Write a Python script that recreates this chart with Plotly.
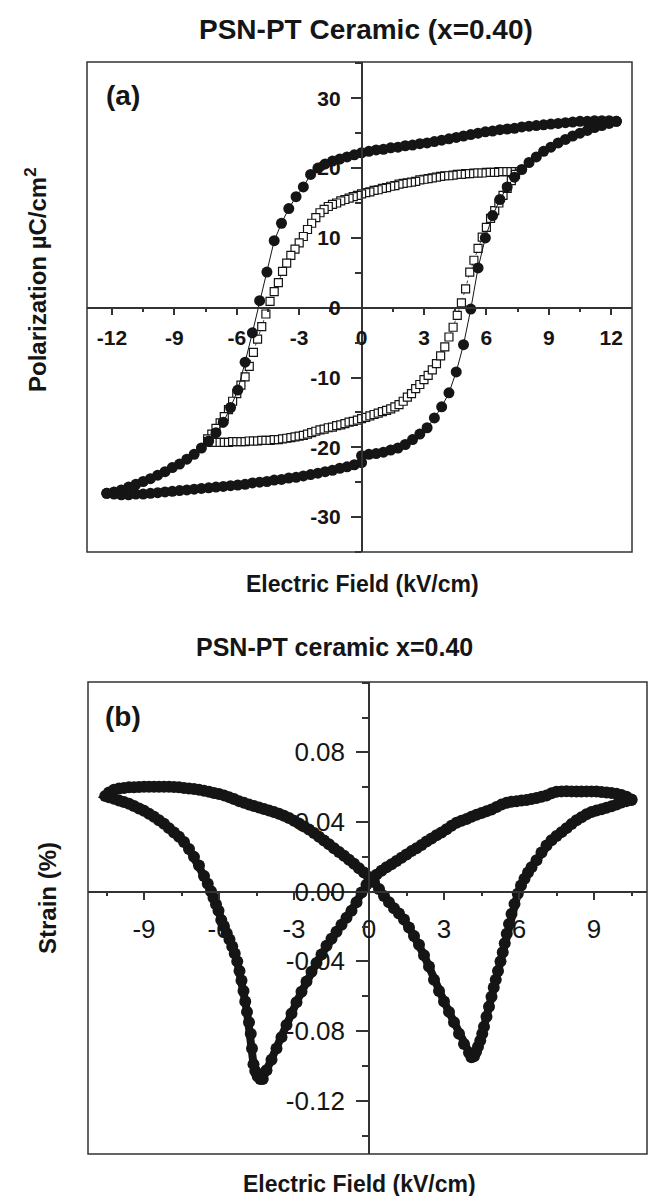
import plotly.graph_objects as go

# ---------------- Panel (a): P-E hysteresis loops ----------------
# outer loop (filled circles), descending field branch
E_outer_down = [12.25, 11.9, 11.55, 11.2, 10.85, 10.5, 10.15, 9.8, 9.45, 9.1, 8.75, 8.4, 8.05, 7.7, 7.35, 7.0,
                6.65, 6.3, 5.95, 5.6, 5.25, 4.9, 4.55, 4.2, 3.85, 3.5, 3.15, 2.8, 2.45, 2.1, 1.75, 1.4, 1.05, 0.7,
                0.35, 0.0, -0.35, -0.7, -1.05, -1.4, -1.75, -2.1, -2.45, -2.8, -3.15, -3.5, -3.85, -4.2, -4.55,
                -4.9, -5.25, -5.6, -5.95, -6.3, -6.65, -7.0, -7.35, -7.7, -8.05, -8.4, -8.75, -9.1, -9.45, -9.8,
                -10.15, -10.5, -10.85, -11.2, -11.55, -11.9, -12.25]
P_outer_down = [26.7, 26.8, 26.8, 26.8, 26.7, 26.7, 26.6, 26.5, 26.4, 26.3, 26.2, 26.1, 26.0, 25.9, 25.7, 25.6,
                25.5, 25.3, 25.2, 25.0, 24.8, 24.6, 24.4, 24.2, 24.0, 23.8, 23.6, 23.5, 23.3, 23.2, 23.0, 22.9,
                22.7, 22.6, 22.4, 22.2, 21.9, 21.6, 21.3, 21.0, 20.6, 20.0, 19.1, 17.3, 15.9, 14.2, 12.1, 9.6,
                5.1, 1.0, -3.6, -7.8, -11.8, -14.3, -16.4, -17.9, -19.1, -20.1, -21.0, -21.7, -22.4, -22.9,
                -23.5, -24.0, -24.5, -24.9, -25.3, -25.7, -26.1, -26.4, -26.6]
# outer loop, ascending field branch
E_outer_up = [-12.25, -11.9, -11.55, -11.2, -10.85, -10.5, -10.15, -9.8, -9.45, -9.1, -8.75, -8.4, -8.05, -7.7,
              -7.35, -7.0, -6.65, -6.3, -5.95, -5.6, -5.25, -4.9, -4.55, -4.2, -3.85, -3.5, -3.15, -2.8, -2.45,
              -2.1, -1.75, -1.4, -1.05, -0.7, -0.35, 0.0, 0.0, 0.35, 0.7, 1.05, 1.4, 1.75, 2.1, 2.45, 2.8, 3.15,
              3.5, 3.85, 4.2, 4.55, 4.9, 5.25, 5.6, 5.95, 6.3, 6.65, 7.0, 7.35, 7.7, 8.05, 8.4, 8.75, 9.1, 9.45,
              9.8, 10.15, 10.5, 10.85, 11.2, 11.55, 11.9, 12.25]
P_outer_up = [-26.6, -26.7, -26.8, -26.8, -26.7, -26.7, -26.6, -26.5, -26.4, -26.3, -26.2, -26.1, -26.0, -25.9,
              -25.8, -25.7, -25.6, -25.5, -25.4, -25.3, -25.1, -25.0, -24.9, -24.7, -24.6, -24.4, -24.3, -24.1,
              -23.9, -23.7, -23.5, -23.3, -23.0, -22.8, -22.5, -22.2, -21.2, -21.0, -20.9, -20.7, -20.4, -20.1,
              -19.6, -18.9, -18.1, -17.2, -15.8, -14.2, -12.2, -9.2, -5.3, -0.2, 5.7, 10.0, 13.2, 15.5, 17.3,
              18.7, 19.8, 20.8, 21.6, 22.4, 23.0, 23.6, 24.1, 24.6, 25.0, 25.4, 25.8, 26.1, 26.4, 26.7]

# inner loop (open squares)
E_inner_down = [7.4, 7.2, 7.0, 6.8, 6.6, 6.4, 6.2, 6.0, 5.8, 5.6, 5.4, 5.2, 5.0, 4.8, 4.6, 4.4, 4.2, 4.0, 3.8,
                3.6, 3.4, 3.2, 3.0, 2.8, 2.6, 2.4, 2.2, 2.0, 1.8, 1.6, 1.4, 1.2, 1.0, 0.8, 0.6, 0.4, 0.2, 0.0,
                -0.2, -0.4, -0.6, -0.8, -1.0, -1.2, -1.4, -1.6, -1.8, -2.0, -2.2, -2.4, -2.6, -2.8, -3.0, -3.2,
                -3.4, -3.6, -3.8, -4.0, -4.2, -4.4, -4.6, -4.8, -5.0, -5.2, -5.4, -5.6, -5.8, -6.0, -6.2, -6.4,
                -6.6, -6.8, -7.0, -7.2, -7.4]
P_inner_down = [19.5, 19.5, 19.5, 19.5, 19.5, 19.4, 19.4, 19.4, 19.3, 19.3, 19.3, 19.2, 19.2, 19.1, 19.1, 19.0,
                18.9, 18.9, 18.8, 18.7, 18.6, 18.5, 18.4, 18.3, 18.1, 18.0, 17.9, 17.8, 17.7, 17.5, 17.4, 17.2,
                17.1, 16.9, 16.8, 16.6, 16.5, 16.3, 16.1, 15.9, 15.7, 15.5, 15.3, 15.0, 14.8, 14.5, 14.1, 13.6,
                12.9, 12.1, 11.2, 10.2, 9.3, 8.4, 7.5, 6.4, 5.2, 3.6, 2.3, 0.9, -0.9, -2.7, -4.5, -6.4, -8.4,
                -9.9, -11.1, -12.3, -13.4, -14.6, -15.6, -16.5, -17.3, -18.1, -18.8]
E_inner_up = [-7.4, -7.2, -7.0, -6.8, -6.6, -6.4, -6.2, -6.0, -5.8, -5.6, -5.4, -5.2, -5.0, -4.8, -4.6, -4.4,
              -4.2, -4.0, -3.8, -3.6, -3.4, -3.2, -3.0, -2.8, -2.6, -2.4, -2.2, -2.0, -1.8, -1.6, -1.4, -1.2,
              -1.0, -0.8, -0.6, -0.4, -0.2, 0.0, 0.2, 0.4, 0.6, 0.8, 1.0, 1.2, 1.4, 1.6, 1.8, 2.0, 2.2, 2.4,
              2.6, 2.8, 3.0, 3.2, 3.4, 3.6, 3.8, 4.0, 4.2, 4.4, 4.6, 4.8, 5.0, 5.2, 5.4, 5.6, 5.8, 6.0, 6.2,
              6.4, 6.6, 6.8, 7.0, 7.2, 7.4]
P_inner_up = [-19.2, -19.3, -19.3, -19.3, -19.3, -19.3, -19.2, -19.2, -19.2, -19.2, -19.1, -19.1, -19.1, -19.0,
              -19.0, -19.0, -18.9, -18.9, -18.8, -18.7, -18.6, -18.5, -18.4, -18.3, -18.1, -17.9, -17.7, -17.5,
              -17.4, -17.2, -17.1, -16.9, -16.8, -16.6, -16.4, -16.3, -16.1, -15.9, -15.7, -15.5, -15.3, -15.1,
              -14.9, -14.7, -14.5, -14.2, -13.9, -13.4, -12.8, -12.3, -11.6, -11.0, -10.3, -9.7, -8.9, -8.0,
              -6.9, -5.6, -4.2, -2.8, -1.1, 0.7, 2.7, 5.1, 6.8, 8.5, 10.1, 11.5, 12.8, 13.9, 15.0, 16.1, 17.1,
              18.2, 19.1]

# ---------------- Panel (b): strain butterfly loop ----------------
E_bA = [10.5, 10.3, 10.1, 9.9, 9.7, 9.5, 9.3, 9.1, 8.9, 8.7, 8.5, 8.3, 8.1, 7.9, 7.7, 7.5, 7.3, 7.1, 6.9, 6.7,
        6.5, 6.3, 6.1, 5.9, 5.7, 5.5, 5.3, 5.1, 4.9, 4.7, 4.5, 4.3, 4.1, 3.9, 3.7, 3.5, 3.3, 3.1, 2.9, 2.7,
        2.5, 2.3, 2.1, 1.9, 1.7, 1.5, 1.3, 1.1, 0.9, 0.7, 0.5, 0.3, 0.1, -0.1, -0.3, -0.5, -0.7, -0.9, -1.1,
        -1.3, -1.5, -1.7, -1.9, -2.1, -2.3, -2.5, -2.7, -2.9, -3.1, -3.3, -3.5, -3.7, -3.9, -4.1, -4.25]
S_bA = [0.0530, 0.0545, 0.0555, 0.0562, 0.0566, 0.0570, 0.0573, 0.0575, 0.0576, 0.0576, 0.0575, 0.0575, 0.0576,
        0.0577, 0.0576, 0.0574, 0.0565, 0.0552, 0.0545, 0.0538, 0.0532, 0.0527, 0.0523, 0.0519, 0.0516, 0.0510,
        0.0500, 0.0486, 0.0472, 0.0462, 0.0452, 0.0442, 0.0430, 0.0418, 0.0408, 0.0396, 0.0378, 0.0358, 0.0340,
        0.0324, 0.0306, 0.0288, 0.0268, 0.0250, 0.0233, 0.0214, 0.0195, 0.0176, 0.0158, 0.0140, 0.0120, 0.0098,
        0.0072, 0.0040, -0.0005, -0.0060, -0.0110, -0.0150, -0.0190, -0.0230, -0.0270, -0.0310, -0.0360,
        -0.0410, -0.0460, -0.0515, -0.0575, -0.0635, -0.0700, -0.0765, -0.0835, -0.0900, -0.0965, -0.1025,
        -0.1075]
E_bB = [-4.35, -4.45, -4.55, -4.62, -4.68, -4.73, -4.8, -4.88, -4.95, -5.02, -5.1, -5.18, -5.27, -5.37, -5.47,
        -5.58, -5.69, -5.8, -5.91, -6.02, -6.12, -6.22, -6.32, -6.45, -6.6, -6.8, -7.0, -7.2, -7.4, -7.6, -7.8,
        -8.0, -8.2, -8.4, -8.6, -8.8, -9.0, -9.2, -9.4, -9.6, -9.8, -10.0, -10.2, -10.4, -10.55]
S_bB = [-0.1075, -0.1060, -0.1030, -0.0990, -0.0900, -0.0815, -0.0750, -0.0690, -0.0630, -0.0570, -0.0510,
        -0.0455, -0.0400, -0.0355, -0.0315, -0.0275, -0.0238, -0.0200, -0.0162, -0.0110, -0.0072, -0.0035,
        0.0002, 0.0045, 0.0090, 0.0150, 0.0200, 0.0245, 0.0285, 0.0315, 0.0340, 0.0365, 0.0390, 0.0410,
        0.0430, 0.0448, 0.0465, 0.0478, 0.0492, 0.0505, 0.0515, 0.0524, 0.0533, 0.0542, 0.0550]
E_bC = [-10.4, -10.2, -10.0, -9.8, -9.6, -9.4, -9.2, -9.0, -8.8, -8.6, -8.4, -8.2, -8.0, -7.8, -7.6, -7.4,
        -7.2, -7.0, -6.8, -6.6, -6.4, -6.2, -6.0, -5.8, -5.6, -5.4, -5.2, -5.0, -4.8, -4.6, -4.4, -4.2, -4.0,
        -3.8, -3.6, -3.4, -3.2, -3.0, -2.8, -2.6, -2.4, -2.2, -2.0, -1.8, -1.6, -1.4, -1.2, -1.0, -0.8, -0.6,
        -0.4, -0.2, 0.0, 0.2, 0.4, 0.6, 0.8, 1.0, 1.2, 1.4, 1.6, 1.8, 2.0, 2.2, 2.4, 2.6, 2.8, 3.0, 3.2, 3.4,
        3.6, 3.8, 4.0, 4.1]
S_bC = [0.0570, 0.0585, 0.0592, 0.0596, 0.0599, 0.0600, 0.0601, 0.0602, 0.0602, 0.0603, 0.0603, 0.0603, 0.0602,
        0.0601, 0.0599, 0.0596, 0.0593, 0.0590, 0.0586, 0.0580, 0.0574, 0.0567, 0.0561, 0.0553, 0.0543, 0.0532,
        0.0520, 0.0510, 0.0500, 0.0492, 0.0483, 0.0475, 0.0466, 0.0457, 0.0447, 0.0436, 0.0423, 0.0408, 0.0392,
        0.0375, 0.0357, 0.0337, 0.0316, 0.0294, 0.0272, 0.0250, 0.0228, 0.0206, 0.0184, 0.0160, 0.0135, 0.0110,
        0.0085, 0.0055, 0.0015, -0.0025, -0.0060, -0.0095, -0.0125, -0.0160, -0.0205, -0.0255, -0.0305,
        -0.0365, -0.0430, -0.0505, -0.0570, -0.0630, -0.0690, -0.0750, -0.0815, -0.0875, -0.0925, -0.0950]
E_bD = [4.2, 4.28, 4.36, 4.45, 4.53, 4.6, 4.7, 4.8, 4.9, 4.99, 5.07, 5.16, 5.26, 5.35, 5.43, 5.51, 5.6, 5.7,
        5.82, 5.95, 6.08, 6.22, 6.36, 6.5, 6.7, 6.9, 7.1, 7.3, 7.5, 7.7, 7.9, 8.1, 8.3, 8.5, 8.7, 8.9, 9.1,
        9.3, 9.5, 9.7, 9.9, 10.1, 10.3, 10.5]
S_bD = [-0.0945, -0.0920, -0.0890, -0.0855, -0.0815, -0.0775, -0.0718, -0.0660, -0.0603, -0.0550, -0.0505,
        -0.0455, -0.0400, -0.0348, -0.0296, -0.0242, -0.0185, -0.0128, -0.0070, -0.0012, 0.0035, 0.0075,
        0.0110, 0.0140, 0.0180, 0.0225, 0.0265, 0.0295, 0.0320, 0.0342, 0.0365, 0.0388, 0.0410, 0.0428,
        0.0445, 0.0457, 0.0466, 0.0474, 0.0482, 0.0490, 0.0500, 0.0512, 0.0520, 0.0526]

# tick labels
xticks_a = [-12, -9, -6, -3, 0, 3, 6, 9, 12]
yticks_a = [-30, -20, -10, 0, 10, 20, 30]
xticks_b = [-9, -6, -3, 0, 3, 6, 9]
yticks_b = [-0.12, -0.08, -0.04, 0.0, 0.04, 0.08]
ytext_b = ["-0.12", "-0.08", "-0.04", "0.00", "0.04", "0.08"]

# ---------------- layout geometry (pixels) ----------------
W, H = 649, 1196
FONT = "Liberation Sans, Arial, Helvetica, sans-serif"
INK = "#151515"
AX = "#333333"

def px_x(x):
    return x / W

def px_y(y):
    return 1 - y / H

# panel (a) frame
a_l, a_r, a_t, a_b = 87, 632, 62, 552
ax_range = [-13.2, 13.0]
ay_range = [-35.0, 35.2]
# panel (b) frame
b_l, b_r, b_t, b_b = 88, 647, 682, 1154
bx_range = [-11.24, 11.12]
by_range = [-0.1506, 0.1204]


def zero_pos(rng, lo, hi):
    return lo + (0 - rng[0]) / (rng[1] - rng[0]) * (hi - lo)

ya0_px = a_b - (a_b - a_t) * (0 - ay_range[0]) / (ay_range[1] - ay_range[0])
xa0_px = zero_pos(ax_range, a_l, a_r)
yb0_px = b_b - (b_b - b_t) * (0 - by_range[0]) / (by_range[1] - by_range[0])
xb0_px = zero_pos(bx_range, b_l, b_r)

fig = go.Figure()

# inner loop squares (drawn first, under the circles)
fig.add_trace(go.Scatter(
    x=E_inner_down + E_inner_up, y=P_inner_down + P_inner_up,
    mode="lines+markers", xaxis="x", yaxis="y",
    line=dict(color=INK, width=0.8, dash="dot"),
    marker=dict(symbol="square", size=8, color="white", line=dict(color=INK, width=1.2)),
    showlegend=False, hoverinfo="skip"))
# outer loop circles
fig.add_trace(go.Scatter(
    x=E_outer_down + E_outer_up, y=P_outer_down + P_outer_up,
    mode="lines+markers", xaxis="x", yaxis="y",
    line=dict(color=INK, width=1),
    marker=dict(symbol="circle", size=11, color=INK),
    showlegend=False, hoverinfo="skip"))
# butterfly loop
fig.add_trace(go.Scatter(
    x=E_bA + E_bB + E_bC + E_bD, y=S_bA + S_bB + S_bC + S_bD,
    mode="lines+markers", xaxis="x2", yaxis="y2",
    line=dict(color=INK, width=8),
    marker=dict(symbol="circle", size=12, color=INK),
    showlegend=False, hoverinfo="skip"))

common_axis = dict(showgrid=False, zeroline=False, showline=True, linecolor=AX, linewidth=1.5,
                   ticks="outside", tickcolor=AX, tickwidth=1.5, fixedrange=True)

fig.update_layout(
    width=W, height=H, margin=dict(l=0, r=0, t=0, b=0),
    paper_bgcolor="white", plot_bgcolor="white",
    xaxis=dict(common_axis, domain=[px_x(a_l), px_x(a_r)], range=ax_range, anchor="free",
               position=px_y(ya0_px), side="bottom", tickmode="array", tickvals=xticks_a,
               ticktext=[str(v) for v in xticks_a], ticklen=7, ticklabelstandoff=4,
               tickfont=dict(family=FONT, size=21, color=INK, weight="bold"),
               minor=dict(ticks="outside", ticklen=4, tickwidth=1.5, tickcolor=AX, dtick=1.5, tick0=0,
                          showgrid=False)),
    yaxis=dict(common_axis, domain=[px_y(a_b), px_y(a_t)], range=ay_range, anchor="free",
               position=px_x(xa0_px), side="left", tickmode="array", tickvals=yticks_a,
               ticktext=[str(v) for v in yticks_a], ticklen=10, ticklabelstandoff=6,
               tickfont=dict(family=FONT, size=21, color=INK, weight="bold"),
               minor=dict(ticks="outside", ticklen=6, tickwidth=1.5, tickcolor=AX, dtick=5, tick0=0,
                          showgrid=False)),
    xaxis2=dict(common_axis, domain=[px_x(b_l), px_x(b_r)], range=bx_range, anchor="free",
                position=px_y(yb0_px), side="bottom", tickmode="array", tickvals=xticks_b,
                ticktext=[str(v) for v in xticks_b], ticklen=8, ticklabelstandoff=6,
                tickfont=dict(family=FONT, size=26, color=INK),
                minor=dict(ticks="outside", ticklen=4, tickwidth=1.5, tickcolor=AX, dtick=1.5, tick0=0,
                           showgrid=False)),
    yaxis2=dict(common_axis, domain=[px_y(b_b), px_y(b_t)], range=by_range, anchor="free",
                position=px_x(xb0_px), side="left", tickmode="array", tickvals=yticks_b,
                ticktext=ytext_b, ticklen=12, ticklabelstandoff=6,
                tickfont=dict(family=FONT, size=26, color=INK),
                minor=dict(ticks="outside", ticklen=6, tickwidth=1.5, tickcolor=AX, dtick=0.02, tick0=0,
                           showgrid=False)),
)

# frames
for xr, yr in (("x", "y"), ("x2", "y2")):
    fig.add_shape(type="rect", xref=f"{xr} domain", yref=f"{yr} domain", x0=0, x1=1, y0=0, y1=1,
                  line=dict(color=AX, width=1.5), fillcolor="rgba(0,0,0,0)", layer="above")

def ann(text, x, y, size, bold=True, angle=0):
    fig.add_annotation(text=text, x=px_x(x), y=px_y(y), xref="paper", yref="paper", showarrow=False,
                       xanchor="center", yanchor="middle", textangle=angle,
                       font=dict(family=FONT, size=size, color=INK, weight="bold" if bold else "normal"))

ann("PSN-PT Ceramic (x=0.40)", 366, 29, 28)
ann("(a)", 123, 96, 28)
ann("Electric Field (kV/cm)", 362, 584, 23)
ann("Polarization \u00b5C/cm<sup>2</sup>", 36, 280, 24, angle=-90)

ann("PSN-PT ceramic x=0.40", 334, 647, 25)
ann("(b)", 123, 716, 28)
ann("Electric Field (kV/cm)", 360, 1184, 23)
ann("Strain (%)", 47, 898, 24, angle=-90)

fig.write_html("out.html")
